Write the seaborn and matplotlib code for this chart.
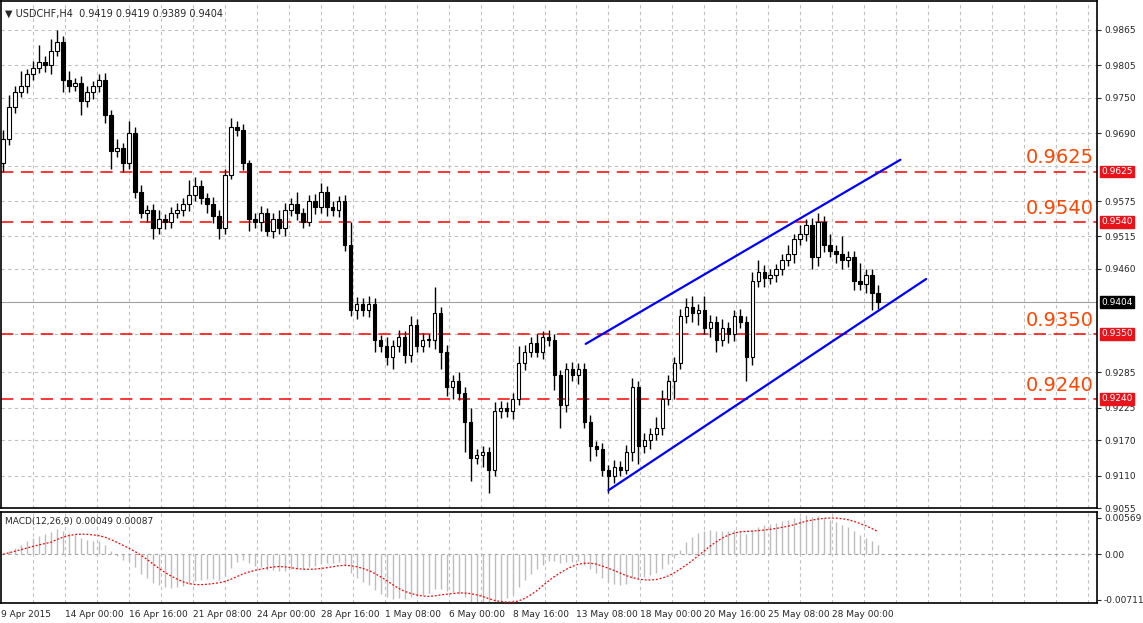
import numpy as np
import pandas as pd
import matplotlib
matplotlib.use("Agg")
import matplotlib.pyplot as plt
import seaborn as sns

# USDCHF H4 closes (in pips, 0.xxxx * 10000)
closes = [9680, 9735, 9760, 9770, 9790, 9800, 9810, 9805, 9830, 9845,
          9780, 9770, 9775, 9745, 9760, 9770, 9780, 9720, 9660, 9665,
          9640, 9690, 9590, 9555, 9560, 9530, 9545, 9540, 9555, 9560,
          9570, 9585, 9600, 9580, 9570, 9550, 9530, 9620, 9700, 9695,
          9640, 9545, 9540, 9555, 9525, 9545, 9530, 9560, 9570, 9555,
          9540, 9575, 9565, 9590, 9565, 9560, 9575, 9500, 9390, 9400,
          9390, 9400, 9340, 9330, 9310, 9330, 9345, 9315, 9365, 9330,
          9340, 9340, 9385, 9320, 9260, 9270, 9250, 9200, 9140, 9145,
          9150, 9120, 9220, 9225, 9220, 9240, 9300, 9320, 9335, 9320,
          9345, 9340, 9280, 9230, 9290, 9280, 9290, 9200, 9160, 9155,
          9120, 9110, 9125, 9120, 9150, 9260, 9160, 9170, 9180, 9190,
          9240, 9270, 9300, 9380, 9395, 9385, 9390, 9360, 9370, 9340,
          9360, 9350, 9380, 9370, 9310, 9440, 9455, 9445, 9450, 9460,
          9475, 9485, 9510, 9520, 9535, 9480, 9540, 9500, 9490, 9485,
          9475, 9480, 9440, 9435, 9450, 9420, 9404]
first_open = 9640
upper_wick = [15, 20, 10, 25, 8, 12, 30, 10, 20, 20,
              10, 15, 8, 12, 10, 8, 10, 12, 10, 15,
              8, 20, 10, 12, 8, 10, 15, 8, 10, 12,
              10, 25, 15, 10, 8, 12, 10, 10, 15, 10,
              10, 5, 10, 12, 8, 10, 15, 12, 10, 20,
              8, 10, 12, 15, 10, 10, 8, 10, 40, 12,
              10, 15, 10, 8, 15, 10, 12, 10, 15, 10,
              12, 10, 45, 10, 12, 10, 15, 10, 25, 10,
              10, 8, 15, 12, 10, 10, 30, 12, 10, 15,
              10, 12, 10, 8, 10, 12, 10, 10, 12, 8,
              10, 8, 12, 10, 12, 15, 10, 12, 10, 20,
              15, 10, 10, 12, 15, 20, 10, 25, 12, 10,
              15, 10, 10, 12, 10, 15, 20, 12, 10, 8,
              10, 15, 10, 15, 10, 12, 15, 10, 20, 10,
              30, 10, 10, 30, 10, 10, 12]
lower_wick = [15, 10, 10, 8, 12, 10, 8, 12, 15, 10,
              20, 10, 8, 25, 10, 12, 10, 12, 30, 10,
              15, 10, 10, 8, 15, 20, 10, 12, 10, 8,
              10, 12, 10, 10, 15, 12, 20, 10, 8, 10,
              12, 20, 10, 15, 10, 12, 10, 15, 10, 12,
              10, 8, 12, 10, 15, 10, 12, 10, 10, 15,
              10, 12, 20, 10, 12, 20, 10, 15, 12, 10,
              10, 12, 15, 30, 15, 20, 12, 50, 40, 10,
              20, 40, 10, 12, 10, 15, 10, 12, 10, 10,
              12, 10, 25, 40, 12, 10, 15, 10, 25, 12,
              10, 30, 12, 10, 8, 15, 30, 12, 15, 10,
              12, 10, 30, 10, 12, 15, 20, 10, 15, 20,
              10, 15, 12, 10, 40, 12, 10, 15, 10, 12,
              10, 10, 15, 10, 12, 20, 15, 12, 10, 15,
              15, 12, 15, 10, 15, 30, 12]

bar_labels = ["9 Apr 2015", "14 Apr 00:00", "16 Apr 16:00", "21 Apr 08:00", "24 Apr 00:00",
              "28 Apr 16:00", "1 May 08:00", "6 May 00:00", "8 May 16:00", "13 May 08:00",
              "18 May 00:00", "20 May 16:00", "25 May 08:00", "28 May 00:00"]
grid_prices = [0.9865, 0.9805, 0.9750, 0.9690, 0.9635, 0.9575, 0.9515, 0.9460,
               0.9404, 0.9350, 0.9285, 0.9225, 0.9170, 0.9110, 0.9055]
price_labels = [0.9865, 0.9805, 0.9750, 0.9690, 0.9575, 0.9515, 0.9460,
                0.9285, 0.9225, 0.9170, 0.9110, 0.9055]
levels = [0.9625, 0.9540, 0.9350, 0.9240]
last_price = 0.9404
# channel trendlines: (bar index, price) endpoints
channel_upper = [(97.2, 0.9333), (149.7, 0.9645)]
channel_lower = [(101.0, 0.9085), (154.0, 0.9443)]

df = pd.DataFrame({"close": np.array(closes) / 10000})
df["open"] = np.r_[first_open, closes[:-1]] / 10000
df["high"] = df[["open", "close"]].max(axis=1) + np.array(upper_wick) / 10000
df["low"] = df[["open", "close"]].min(axis=1) - np.array(lower_wick) / 10000
df["i"] = np.arange(len(df))

# MACD(12,26,9) from closes
ema12 = df["close"].ewm(span=12, adjust=False).mean()
ema26 = df["close"].ewm(span=26, adjust=False).mean()
df["macd"] = ema12 - ema26
df["signal"] = df["macd"].rolling(9, min_periods=1).mean()

sns.set_style("white")
plt.rcParams["font.family"] = ["DejaVu Sans"]

W, H = 1143, 623
fig = plt.figure(figsize=(W / 100, H / 100), dpi=100)
ax = fig.add_axes([1 / W, 1 - 508 / H, 1096 / W, 507 / H])
ax2 = fig.add_axes([1 / W, 1 - 603 / H, 1096 / W, 91 / H])


def px2i(px):
    return (px - 2) / 6.0


xmin, xmax = px2i(0), px2i(1097)
for a in (ax, ax2):
    a.set_xlim(xmin, xmax)
    for s in a.spines.values():
        s.set_color("black")
        s.set_linewidth(1.2)
    for gx in range(32, 1097, 32):
        a.axvline(px2i(gx), color="#c0c0c0", ls=(0, (3, 3)), lw=0.8, zorder=0)

# price panel
ax.set_ylim(0.9865 - (508 - 29) / 5920, 0.9865 + 29 / 5920)
for p in grid_prices:
    if p != last_price:
        ax.axhline(p, color="#c0c0c0", ls=(0, (3, 3)), lw=0.8, zorder=0)
ax.axhline(last_price, color="#a0a0a0", lw=0.8, zorder=0)
for lv in levels:
    ax.axhline(lv, color="red", ls=(0, (8, 5)), lw=1.1, zorder=1)
    ax.text(px2i(1026), lv + 0.0007, f"{lv:.4f}",
            color="#ff4500", fontsize=14, va="bottom", ha="left")

up = df["close"] >= df["open"]
ax.vlines(df["i"], df["low"], df["high"], color="black", lw=1, zorder=2)
body_h = (df["close"] - df["open"]).abs().clip(lower=0.00005)
body_b = df[["open", "close"]].min(axis=1)
ax.bar(df["i"], body_h, bottom=body_b, width=0.6,
       color=np.where(up, "white", "black"), edgecolor="black", lw=0.8, zorder=3)

for line in (channel_upper, channel_lower):
    xs, ys = zip(*line)
    ax.plot(xs, ys, color="#0000ff", lw=1.6, zorder=4)

ax.set_xticks([])
ax.yaxis.tick_right()
ax.set_yticks(price_labels)
ax.set_yticklabels([f"{p:.4f}" for p in price_labels], fontsize=6.5)
ax.tick_params(axis="y", length=3, pad=2)
for lv in levels:
    ax.text(1.004, lv, f"{lv:.4f}", transform=ax.get_yaxis_transform(), fontsize=6.5,
            color="white", va="center", ha="left",
            bbox=dict(boxstyle="square,pad=0.15", fc="#e8141c", ec="#e8141c"))
ax.text(1.004, last_price, f"{last_price:.4f}", transform=ax.get_yaxis_transform(),
        fontsize=6.5, color="white", va="center", ha="left",
        bbox=dict(boxstyle="square,pad=0.15", fc="black", ec="black"))
ax.text(0.004, 0.985, "\u25BC USDCHF,H4  0.9419 0.9419 0.9389 0.9404", transform=ax.transAxes,
        fontsize=7, va="top", ha="left")

# MACD panel
ax2.vlines(df["i"], 0, df["macd"], color="#bdbdbd", lw=1, zorder=2)
sns.lineplot(x=df["i"], y=df["signal"], ax=ax2, color="red", lw=0.9,
             linestyle=(0, (1.5, 1.5)), zorder=3)
ax2.axhline(0, color="#a0a0a0", ls=(0, (3, 3)), lw=0.8, zorder=0)
ax2.set_ylim(-0.00711 - 0.0005, 0.00569 + 0.0009)
ax2.yaxis.tick_right()
ax2.set_yticks([0.00569, 0.0, -0.00711])
ax2.set_yticklabels(["0.00569", "0.00", "-0.00711"], fontsize=6.5)
ax2.tick_params(axis="y", length=3, pad=2)
ax2.set_xlabel("")
ax2.set_ylabel("")
ax2.text(0.004, 0.95, "MACD(12,26,9) 0.00049 0.00087", transform=ax2.transAxes,
         fontsize=6.5, va="top", ha="left")
ax2.set_xticks([px2i(64 * k) for k in range(len(bar_labels))])
ax2.set_xticklabels(bar_labels, fontsize=6.5, ha="left")
ax2.tick_params(axis="x", length=3, pad=2)

fig.savefig("out.png", dpi=100, facecolor="white")
